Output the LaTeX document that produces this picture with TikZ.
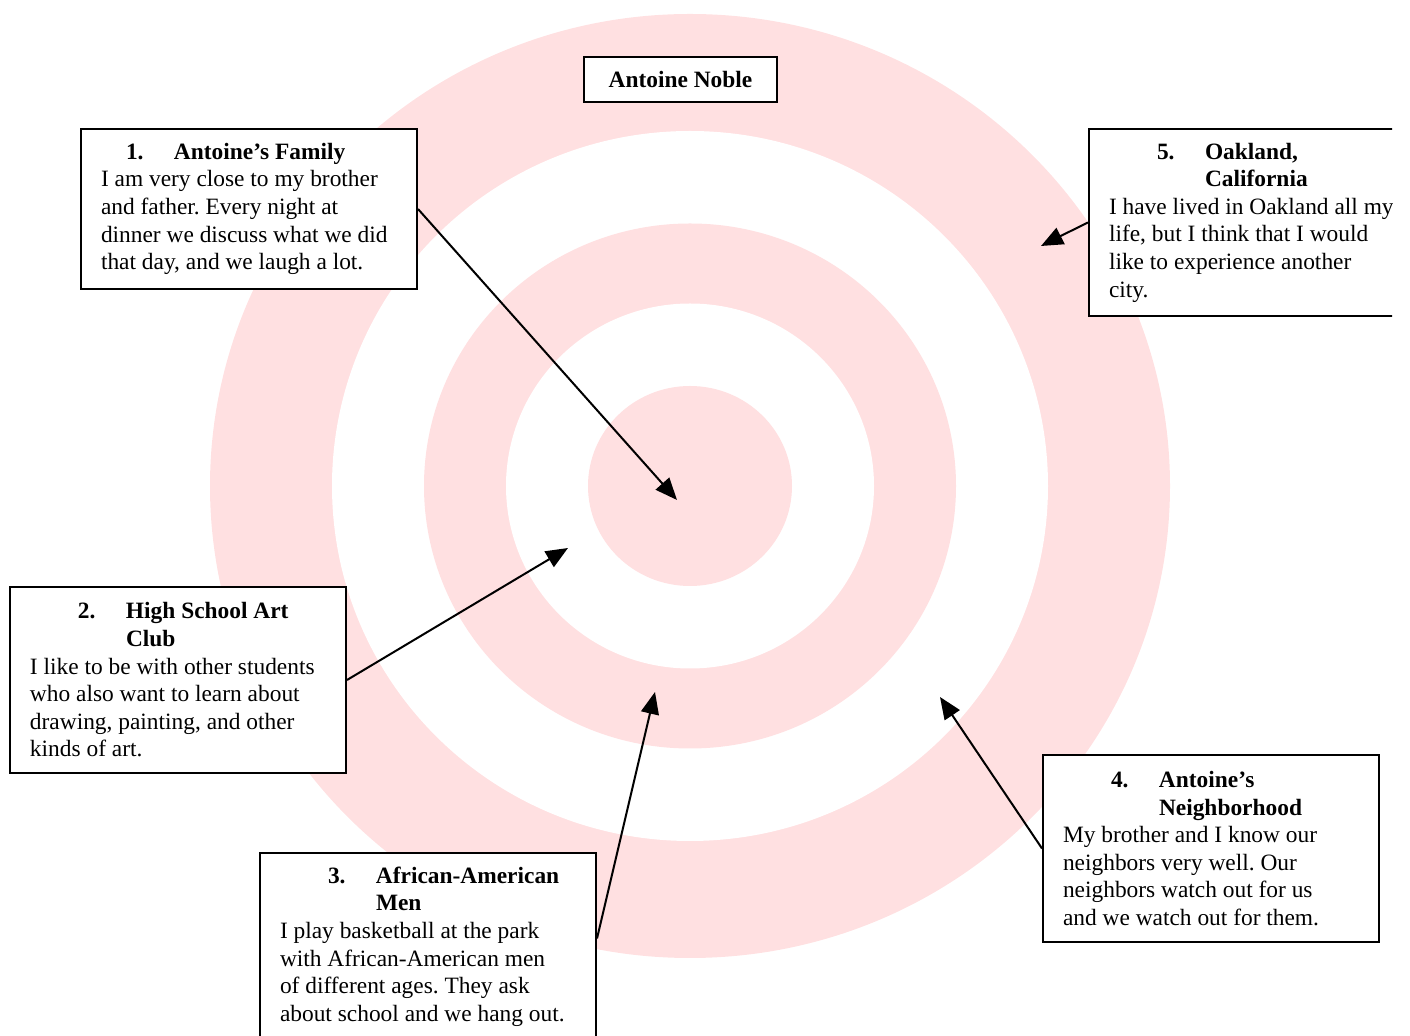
\documentclass[tikz,border=0pt]{standalone}
\usepackage{fontspec}
\setmainfont{Liberation Serif}
\usetikzlibrary{arrows.meta}
\definecolor{FontColor}{HTML}{000000}
\definecolor{PinkRing}{HTML}{FFE0E1}
\newcommand\boxfont{\fontsize{11.7pt}{13.8pt}\selectfont\frenchspacing\parindent=0pt\hyphenpenalty=10000\relax}
\newcommand\headline[3]{\hspace*{#1}\makebox[24pt][l]{\textbf{#2}}\textbf{#3}}
\newcommand\nodename{\textbf{Antoine Noble}}
\newcommand\nodefam{\headline{12.5pt}{1.}{Antoine's Family}\\ I am very close to my brother\\ and father. Every night at\\ dinner we discuss what we did\\ that day, and we laugh a lot.}
\newcommand\nodeart{\headline{24pt}{2.}{High School Art}\\ \hspace*{48pt}\textbf{Club}\\ I like to be with other students\\ who also want to learn about\\ drawing, painting, and other\\ kinds of art.}
\newcommand\nodemen{\headline{24pt}{3.}{African-American}\\ \hspace*{48pt}\textbf{Men}\\ I play basketball at the park\\ with African-American men\\ of different ages. They ask\\ about school and we hang out.}
\newcommand\nodehood{\headline{24pt}{4.}{Antoine's}\\ \hspace*{48pt}\textbf{Neighborhood}\\ My brother and I know our\\ neighbors very well. Our\\ neighbors watch out for us\\ and we watch out for them.}
\newcommand\nodeoak{\headline{24pt}{5.}{Oakland,}\\ \hspace*{48pt}\textbf{California}\\ \mbox{I have lived in Oakland all my}\\ life, but I think that I would\\ like to experience another\\ city.}
\tikzstyle{mynodestyle} = [rectangle, draw, fill=white, line width=1pt, text=FontColor, font=\boxfont,
  execute at begin node={\spaceskip=0pt\xspaceskip=0pt\relax}]
\tikzstyle{tn} = [mynodestyle, minimum width=96.5pt, minimum height=22.5pt, inner sep=0pt]
\tikzstyle{bn} = [mynodestyle, anchor=north west, text width=148pt, inner xsep=10pt, inner ysep=0pt]
\tikzstyle{ring} = [fill=PinkRing]
\tikzset{>={Triangle[length=11pt,width=9pt]}, every picture/.style={line width=1pt}}
\begin{document}
\begin{tikzpicture}[x=0.5pt, y=-0.5pt]
\useasboundingbox (0,0) rectangle (1410,1036);
\clip (0,0) rectangle (1392,1036);
\coordinate (c) at (690,486);
\fill[ring] (c) ellipse [x radius=240pt, y radius=236pt];
\fill[white] (c) ellipse [x radius=179pt, y radius=177.5pt];
\fill[ring] (c) ellipse [x radius=133pt, y radius=131.25pt];
\fill[white] (c) ellipse [x radius=92pt, y radius=91.25pt];
\fill[ring] (c) ellipse [x radius=51pt, y radius=50pt];
\node[tn] (name) at (680.5,79.5) {\nodename};
\node[bn, minimum height=80pt] (fam) at (80,128) {\nodefam};
\node[bn, minimum height=93pt] (art) at (9,586) {\nodeart};
\node[bn, minimum height=93.5pt] (men) at (259,852) {\nodemen};
\node[bn, minimum height=93.5pt] (hood) at (1042,754) {\nodehood};
\node[bn, minimum height=93.5pt] (oak) at (1088,128) {\nodeoak};
\coordinate (t1) at (677,500);
\coordinate (t2) at (568,548);
\coordinate (t3) at (655,692);
\coordinate (t4) at (940,697);
\coordinate (t5) at (1041,246);
\draw [->] (fam.east) -- (t1);
\draw [->] (art.east) -- (t2);
\draw [->] ([yshift=4pt]men.east) -- (t3);
\draw [->] (hood.west) -- (t4);
\draw [->] (oak.west) -- (t5);
\end{tikzpicture}
\end{document}
